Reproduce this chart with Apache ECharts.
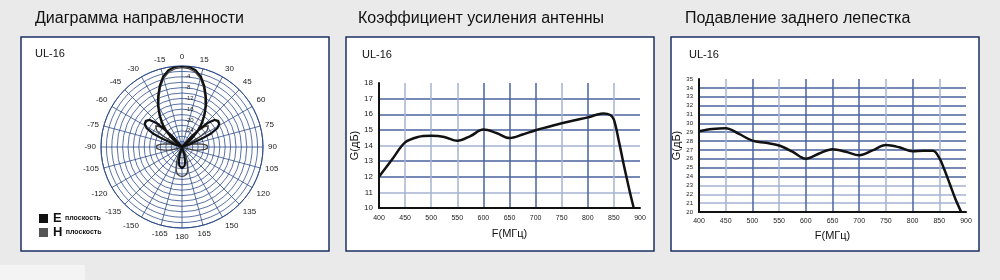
<!DOCTYPE html>
<html><head><meta charset="utf-8">
<script src="https://cdn.jsdelivr.net/npm/echarts@6/dist/echarts.min.js"></script>
<style>html,body{margin:0;padding:0;background:#eaeaea;}#c{width:1000px;height:280px;}</style>
</head><body><div id="c"></div>
<script>
// ---------- Panel titles ----------
const panelTitles = ['Диаграмма направленности', 'Коэффициент усиления антенны', 'Подавление заднего лепестка'];
const modelName = 'UL-16';

// ---------- Polar pattern (angle in degrees, level in dB) ----------
// E-plane (black)
const eLeftPetalAngle = [-40,-42,-44.5,-47,-50,-54,-58,-62,-65,-67.5,-69.5,-71];
const eLeftPetalDb    = [-30,-24.8,-20.4,-17.0,-14.4,-13.5,-13.7,-15.2,-18.1,-22.6,-27.0,-30];
const eMainAngle = [-54,-50,-45,-40,-35,-30,-25,-20,-15,-10,-5,0,5,10,15,20,25,30,35,40,45,50,54];
const eMainDb    = [-30,-25.6,-21.9,-18.5,-15.4,-12.2,-9.1,-5.9,-3.0,-1.1,-0.2,0,-0.2,-1.1,-3.0,-5.9,-9.1,-12.2,-15.4,-18.5,-21.9,-25.6,-30];
const eRightPetalAngle = [40,42,44.5,47,50,54,58,62,65,67.5,69.5,71];
const eRightPetalDb    = [-30,-24.8,-20.4,-17.0,-14.4,-13.5,-13.7,-15.2,-18.1,-22.6,-27.0,-30];
const eBackAngle = [160,164,168,172,176,180,184,188,192,196,200];
const eBackDb    = [-30,-27,-24.4,-23,-22.4,-22.2,-22.4,-23,-24.4,-27,-30];

// H-plane (grey)
const hLeftSideAngle = [-68,-72,-76,-80,-84,-87,-90,-93,-96,-100,-104,-108,-112];
const hLeftSideDb    = [-30,-27.8,-25.6,-23.3,-21.5,-20.6,-20.4,-20.6,-21.5,-23.3,-25.6,-27.8,-30];
const hLeftPetalAngle = [-40,-42,-45,-48,-51,-54,-57,-60,-62,-64];
const hLeftPetalDb    = [-30,-25.6,-21.9,-18.9,-17.4,-17.4,-18.9,-21.9,-25.6,-30];
const hMainAngle = [-54,-50,-45,-40,-35,-30,-25,-20,-15,-10,-5,0,5,10,15,20,25,30,35,40,45,50,54];
const hMainDb    = [-30,-26.5,-22.8,-19.4,-16.2,-13.0,-9.8,-6.6,-3.7,-1.8,-0.9,-0.6,-0.9,-1.8,-3.7,-6.6,-9.8,-13.0,-16.2,-19.4,-22.8,-26.5,-30];
const hRightPetalAngle = [40,42,45,48,51,54,57,60,62,64];
const hRightPetalDb    = [-30,-25.6,-21.9,-18.9,-17.4,-17.4,-18.9,-21.9,-25.6,-30];
const hRightSideAngle = [68,72,76,80,84,87,90,93,96,100,104,108,112];
const hRightSideDb    = [-30,-27.8,-25.6,-23.3,-21.5,-20.6,-20.4,-20.6,-21.5,-23.3,-25.6,-27.8,-30];
const hBackAngle = [150,155,160,165,170,175,180,185,190,195,200,205,210];
const hBackDb    = [-30,-27,-24.1,-21.5,-19.8,-19.3,-19.1,-19.3,-19.8,-21.5,-24.1,-27,-30];

const radiusLabels = [-4,-8,-12,-16,-20,-24];

// ---------- Gain vs frequency ----------
const gainFreq  = [400,425,450,475,500,525,550,575,600,625,650,675,700,725,750,775,800,815,830,843,850,860,870,880,888];
const gainValue = [12.0,13.1,14.2,14.55,14.62,14.55,14.3,14.6,15.02,14.8,14.48,14.7,14.98,15.2,15.42,15.62,15.8,15.95,16.05,15.95,15.65,14.2,12.6,11.1,10.0];

// ---------- Front-to-back ratio vs frequency ----------
const fbFreq  = [400,425,450,475,500,525,550,575,600,625,650,675,700,725,750,775,800,820,838,850,860,870,880,891];
const fbValue = [29.1,29.35,29.45,28.8,28.05,27.8,27.5,26.8,26.0,26.6,27.07,26.8,26.4,26.95,27.55,27.3,26.85,26.9,26.9,26.1,24.7,23.1,21.5,20.0];

const FONT = '"Liberation Sans", Arial, sans-serif';
const D = '#4a639c', L = '#a4b2cf', T = 'rgba(0,0,0,0)';
const gridBlue = '#2f4c8c';

function norm(a){ return ((a % 360) + 360) % 360; }
function pts(angles, dbs){ return dbs.map((d,i)=>[d, norm(angles[i])]); }

const eData = [].concat(pts(eLeftPetalAngle,eLeftPetalDb), pts(eMainAngle,eMainDb), pts(eRightPetalAngle,eRightPetalDb), pts(eBackAngle,eBackDb));
const hData = [].concat(pts(hLeftSideAngle,hLeftSideDb), pts(hLeftPetalAngle,hLeftPetalDb), pts(hMainAngle,hMainDb), pts(hRightPetalAngle,hRightPetalDb), pts(hRightSideAngle,hRightSideDb), pts(hBackAngle,hBackDb));

function xy(xs, ys){ return ys.map((v,i)=>[xs[i], v]); }

const chart = echarts.init(document.getElementById('c'), null, {renderer:'canvas'});

function cartAxes(gi, opts){
  return {
    x: {
      type:'value', gridIndex:gi, min:400, max:900, interval:50,
      axisLine:{show:true, onZero:false, lineStyle:{color:'#111', width:2}},
      axisTick:{show:false},
      axisLabel:{fontSize:7, color:'#222', margin:opts.xMargin, fontFamily:FONT},
      splitLine:{show:true, lineStyle:{color:opts.xColors, width:1.5}},
      name:'F(МГц)', nameLocation:'middle', nameGap:opts.xNameGap,
      nameTextStyle:{fontSize:11, color:'#111', fontFamily:FONT}
    },
    y: {
      type:'value', gridIndex:gi, min:opts.ymin, max:opts.ymax, interval:1,
      axisLine:{show:true, onZero:false, lineStyle:{color:'#111', width:2}},
      axisTick:{show:false},
      axisLabel:{fontSize:opts.yFont, color:'#222', margin:6, fontFamily:FONT},
      splitLine:{show:true, lineStyle:{color:opts.yColors, width:1.5}},
      name:'G(дБ)', nameLocation:'middle', nameGap:opts.yNameGap, nameRotate:90,
      nameTextStyle:{fontSize:11, color:'#111', fontFamily:FONT}
    }
  };
}
const a2 = cartAxes(0, {ymin:10, ymax:18, yFont:8, xMargin:7, xNameGap:20, yNameGap:16,
  xColors:[T,L,L,L,D,D,D,L,D,L,T], yColors:[T,L,D,D,L,D,D,D,T]});
const a3 = cartAxes(1, {ymin:20, ymax:35, yFont:6, xMargin:6, xNameGap:18, yNameGap:12,
  xColors:[T,L,D,L,D,D,D,L,D,L,T], yColors:[T,L,L,L,D,D,D,D,D,D,D,D,D,D,D,T]});

const panels = [21, 346, 671];
const option = {
  backgroundColor:'#eaeaea',
  animation:false,
  textStyle:{fontFamily:FONT},
  graphic:[
    {type:'rect', z:-10, shape:{x:0,y:265,width:85,height:15}, style:{fill:'#f4f4f4'}},
    ...panels.map(px=>({type:'rect', z:-5, shape:{x:px, y:37, width:308, height:214},
      style:{fill:'#ffffff', stroke:'#1c3163', lineWidth:1.5}}))
  ],
  title:[
    {text:panelTitles[0], left:35, top:11, padding:0, textStyle:{fontSize:16, fontWeight:'normal', color:'#111', fontFamily:FONT}},
    {text:panelTitles[1], left:358, top:11, padding:0, textStyle:{fontSize:16, fontWeight:'normal', color:'#111', fontFamily:FONT}},
    {text:panelTitles[2], left:685, top:11, padding:0, textStyle:{fontSize:16, fontWeight:'normal', color:'#111', fontFamily:FONT}},
    {text:modelName, left:35, top:48, padding:0, textStyle:{fontSize:11, fontWeight:'normal', color:'#111', fontFamily:FONT}},
    {text:modelName, left:362, top:49, padding:0, textStyle:{fontSize:11, fontWeight:'normal', color:'#111', fontFamily:FONT}},
    {text:modelName, left:689, top:49, padding:0, textStyle:{fontSize:11, fontWeight:'normal', color:'#111', fontFamily:FONT}}
  ],
  legend:{
    data:['E','H'], orient:'vertical', left:39, top:212, itemWidth:9, itemHeight:9, itemGap:1,
    icon:'rect', padding:0,
    formatter: n => '{b|' + n + '} {s|плоскость}',
    textStyle:{rich:{b:{fontSize:13, lineHeight:13, fontWeight:'bold', color:'#111', fontFamily:FONT}, s:{fontSize:7, lineHeight:13, fontWeight:'bold', color:'#111', fontFamily:FONT}}}
  },
  polar:{center:[182,147], radius:81},
  angleAxis:{
    type:'value', min:0, max:360, interval:15, startAngle:90, clockwise:true,
    axisLine:{show:true, lineStyle:{color:gridBlue, width:1}},
    axisTick:{show:false},
    axisLabel:{fontSize:8, color:'#222', margin:5, fontFamily:FONT,
      formatter: v => String(v > 180 ? v - 360 : v)},
    splitLine:{show:true, lineStyle:{color:gridBlue, width:0.8}}
  },
  radiusAxis:{
    type:'value', min:-30, max:0, interval:2,
    axisLine:{show:false}, axisTick:{show:false},
    axisLabel:{fontSize:6, color:'#222', margin:-3, align:'left', fontFamily:FONT,
      formatter: v => radiusLabels.indexOf(v) >= 0 ? String(v) : ''},
    splitLine:{show:true, lineStyle:{color:gridBlue, width:0.8}}
  },
  grid:[
    {left:379, right:360, top:83, bottom:72},
    {left:699, right:34, top:79, bottom:68}
  ],
  xAxis:[a2.x, a3.x],
  yAxis:[a2.y, a3.y],
  series:[
    {name:'H', type:'line', coordinateSystem:'polar', data:hData, symbol:'none',
      lineStyle:{color:'#444', width:1.3}, itemStyle:{color:'#555'}, z:3},
    {name:'E', type:'line', coordinateSystem:'polar', data:eData, symbol:'none',
      lineStyle:{color:'#111', width:2.2}, itemStyle:{color:'#111'}, z:4},
    {type:'line', xAxisIndex:0, yAxisIndex:0, data:xy(gainFreq,gainValue), symbol:'none', smooth:0.35,
      lineStyle:{color:'#111', width:2.5}},
    {type:'line', xAxisIndex:1, yAxisIndex:1, data:xy(fbFreq,fbValue), symbol:'none', smooth:0.35,
      lineStyle:{color:'#111', width:2.5}}
  ]
};
chart.setOption(option);
</script>
</body></html>
